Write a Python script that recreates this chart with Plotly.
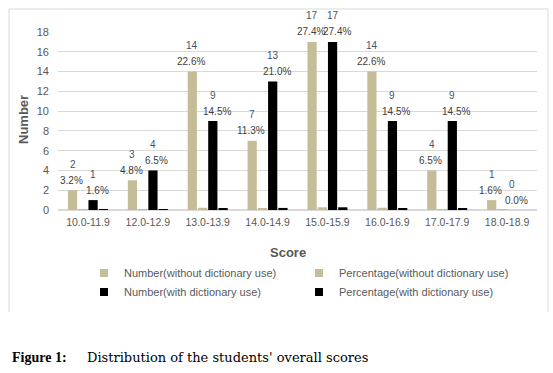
import plotly.graph_objects as go

categories = ["10.0-11.9", "12.0-12.9", "13.0-13.9", "14.0-14.9",
              "15.0-15.9", "16.0-16.9", "17.0-17.9", "18.0-18.9"]
num_without = [2, 3, 14, 7, 17, 14, 4, 1]
pct_without = [0.032, 0.048, 0.226, 0.113, 0.274, 0.226, 0.065, 0.016]
num_with = [1, 4, 9, 13, 17, 9, 9, 0]
pct_with = [0.016, 0.065, 0.145, 0.210, 0.274, 0.145, 0.145, 0.000]
series_names = ["Number(without dictionary use)", "Percentage(without dictionary use)",
                "Number(with dictionary use)", "Percentage(with dictionary use)"]
y_ticks = [0, 2, 4, 6, 8, 10, 12, 14, 16, 18]

TAN = "#C4BD97"
BLACK = "#000000"
GRAY = "#595959"

W, H = 553, 373
L, R, T, B = 58, 16, 32, 163
pw = W - L - R
ph = H - T - B


def px_x(p):
    return (p - L) / pw


def px_y(p):
    return (H - B - p) / ph


fig = go.Figure()
series = [num_without, pct_without, num_with, pct_with]
colors = [TAN, TAN, BLACK, BLACK]
for name, vals, col in zip(series_names, series, colors):
    fig.add_trace(go.Bar(x=categories, y=vals, name=name, marker_color=col,
                         marker_line_width=0, showlegend=False))
# legend entries with small square swatches
for name, col in zip(series_names, colors):
    fig.add_trace(go.Scatter(x=[None], y=[None], mode="markers", name=name,
                             marker=dict(symbol="square", size=8, color=col),
                             showlegend=True))

annotations = []
slot = pw / len(categories) * (1 - 0.315) / 4
lab_font_num = dict(family="Liberation Sans, Arial, sans-serif", size=10, color="#44546A")
lab_font_pct = dict(family="Liberation Sans, Arial, sans-serif", size=10, color="#404040")
for i, c in enumerate(categories):
    for vals, pcts, xs, pxs in ((num_without, pct_without, -1.5 * slot, -1),
                                (num_with, pct_with, 0.5 * slot, 4)):
        v = vals[i]
        annotations.append(dict(x=c, y=v, xref="x", yref="y", text=str(v),
                                showarrow=False, xshift=xs, yshift=26,
                                yanchor="middle", font=lab_font_num))
        annotations.append(dict(x=c, y=v, xref="x", yref="y",
                                text=f"{pcts[i]*100:.1f}%",
                                showarrow=False, xshift=xs + pxs, yshift=10,
                                yanchor="middle", font=lab_font_pct))

annotations.append(dict(x=px_x(288), y=px_y(252.7), xref="paper", yref="paper",
                        text="<b>Score</b>", showarrow=False, xanchor="center",
                        yanchor="middle",
                        font=dict(family="Liberation Sans, Arial, sans-serif",
                                  size=13, color=GRAY)))
annotations.append(dict(x=px_x(23), y=px_y(120), xref="paper", yref="paper",
                        text="<b>Number</b>", showarrow=False, textangle=-90,
                        xanchor="center", yanchor="middle",
                        font=dict(family="Liberation Sans, Arial, sans-serif",
                                  size=13, color=GRAY)))
annotations.append(dict(x=px_x(10), y=px_y(357), xref="paper", yref="paper",
                        text="<b>Figure 1:</b>", showarrow=False, xanchor="left",
                        yanchor="middle",
                        font=dict(family="Liberation Serif, serif", size=14,
                                  color="black")))
annotations.append(dict(x=px_x(85), y=px_y(357), xref="paper", yref="paper",
                        text="Distribution of the students' overall scores",
                        showarrow=False, xanchor="left", yanchor="middle",
                        font=dict(family="DejaVu Serif, serif", size=13,
                                  color="black")))

border = "#D9D9D9"
shapes = [
    dict(type="line", xref="paper", yref="paper", x0=px_x(9), x1=px_x(548),
         y0=px_y(9), y1=px_y(9), line=dict(color=border, width=1)),
    dict(type="line", xref="paper", yref="paper", x0=px_x(9), x1=px_x(9),
         y0=px_y(9), y1=px_y(312), line=dict(color=border, width=1)),
    dict(type="line", xref="paper", yref="paper", x0=px_x(548), x1=px_x(548),
         y0=px_y(9), y1=px_y(312), line=dict(color=border, width=1)),
]

fig.update_layout(
    width=W, height=H,
    margin=dict(l=L, r=R, t=T, b=B, autoexpand=False),
    paper_bgcolor="white", plot_bgcolor="white",
    barmode="group", bargap=0.315, bargroupgap=0.1,
    font=dict(family="Liberation Sans, Arial, sans-serif", size=11, color=GRAY),
    showlegend=True,
    legend=dict(orientation="h", x=px_x(84), y=px_y(258.5), xanchor="left",
                yanchor="top", entrywidth=170, entrywidthmode="pixels",
                font=dict(size=11, color=GRAY), traceorder="normal",
                bgcolor="rgba(0,0,0,0)", tracegroupgap=0, itemwidth=30),
    annotations=annotations,
    shapes=shapes,
    xaxis=dict(type="category", showgrid=False, showline=True, linecolor="#D9D9D9",
               linewidth=1, ticks="", tickfont=dict(size=10.5, color=GRAY),
               ticklabelstandoff=2),
    yaxis=dict(range=[0, 18], tickvals=y_ticks, showgrid=True, gridcolor="#D9D9D9",
               gridwidth=1, zeroline=True, zerolinecolor="#D9D9D9", showline=False,
               ticks="", tickfont=dict(size=11, color=GRAY), ticklabelstandoff=8),
)

fig.write_html("out.html", config={"displayModeBar": False},
               post_script="document.body.style.margin='0';document.body.style.padding='0';")
